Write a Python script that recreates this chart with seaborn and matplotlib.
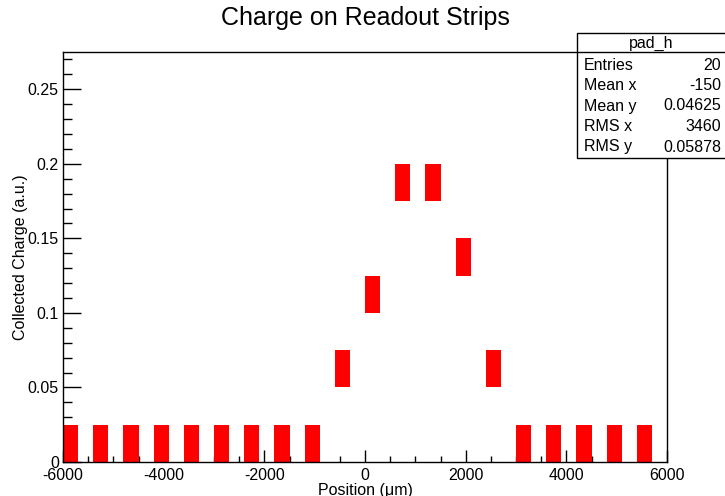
import numpy as np
import pandas as pd
import matplotlib
matplotlib.use("Agg")
import matplotlib.pyplot as plt
from matplotlib.colors import ListedColormap
from matplotlib.patches import Rectangle
from matplotlib.ticker import MultipleLocator
import seaborn as sns

# Strip positions (um) and collected charge (a.u., bin centres)
positions = [-5850, -5250, -4650, -4050, -3450, -2850, -2250, -1650, -1050, -450,
             150, 750, 1350, 1950, 2550, 3150, 3750, 4350, 4950, 5550]
charges = [0.0125, 0.0125, 0.0125, 0.0125, 0.0125, 0.0125, 0.0125, 0.0125, 0.0125, 0.0625,
           0.1125, 0.1875, 0.1875, 0.1375, 0.0625, 0.0125, 0.0125, 0.0125, 0.0125, 0.0125]
x_edges = np.linspace(-6000, 6000, 41)
y_edges = np.linspace(0, 0.275, 12)

stats_labels = ["Entries", "Mean x", "Mean y", "RMS x", "RMS y"]
stats_values = ["20", "-150", "0.04625", "3460", "0.05878"]

sns.set_style("ticks")
plt.rcParams['font.family'] = ['Liberation Sans', 'DejaVu Sans']
plt.rcParams['text.color'] = 'black'
plt.rcParams['axes.labelcolor'] = 'black'
plt.rcParams['xtick.color'] = 'black'
plt.rcParams['ytick.color'] = 'black'

df = pd.DataFrame({"Position": positions, "Charge": charges})

fig = plt.figure(figsize=(7.25, 4.96), dpi=100)
ax = fig.add_axes([63/725, 34/496, 604/725, 410/496])

sns.histplot(data=df, x="Position", y="Charge", bins=[x_edges, y_edges],
             cmap=ListedColormap(["#ff0000"]), vmin=0, vmax=1, cbar=False, ax=ax)

ax.set_xlim(-6000, 6000)
ax.set_ylim(0, 0.275)
ax.xaxis.set_minor_locator(MultipleLocator(500))
ax.yaxis.set_minor_locator(MultipleLocator(0.01))
ax.set_xticks([-6000, -4000, -2000, 0, 2000, 4000, 6000])
ax.set_xticklabels(["-6000", "-4000", "-2000", "0", "2000", "4000", "6000"])
ax.set_yticks([0, 0.05, 0.1, 0.15, 0.2, 0.25])
ax.set_yticklabels(["0", "0.05", "0.1", "0.15", "0.2", "0.25"])
ax.tick_params(axis='x', which='both', bottom=True, top=False, direction='in', colors='black')
ax.tick_params(axis='y', which='both', left=True, right=False, direction='in', colors='black')
ax.tick_params(axis='x', which='major', length=8.6, width=1, labelsize=11.5, pad=4.5)
ax.tick_params(axis='x', which='minor', length=4.3, width=1)
ax.tick_params(axis='y', which='major', length=13, width=1, labelsize=11.5, pad=3)
ax.tick_params(axis='y', which='minor', length=6.5, width=1)
for s in ax.spines.values():
    s.set_visible(True)
    s.set_color('black')
    s.set_linewidth(1)

ax.set_xlabel("Position (\u03bcm)", fontsize=11.5, labelpad=0, color='black')
ax.set_ylabel("Collected Charge (a.u.)", fontsize=11.5, color='black')
ax.xaxis.set_label_coords(0.5, -0.052)
ax.yaxis.set_label_coords(-0.058, 0.5)

fig.text(365/725, 1 - 18/496, "Charge on Readout Strips", ha='center', va='center',
         fontsize=18, color='black')

# Stats box
bx0, by0, bx1, by1 = 577, 33, 726, 158
fig.patches.append(Rectangle((bx0/725, 1 - by1/496), (bx1 - bx0)/725, (by1 - by0)/496,
                             transform=fig.transFigure, facecolor='white', edgecolor='black',
                             linewidth=1, zorder=10))
fig.lines.append(plt.Line2D([bx0/725, bx1/725], [1 - 52/496, 1 - 52/496],
                            transform=fig.transFigure, color='black', linewidth=1, zorder=11))
fig.text((bx0 + bx1)/2/725, 1 - 43/496, "pad_h", ha='center', va='center', fontsize=11.5,
         zorder=12, color='black')
for i, (lab, val) in enumerate(zip(stats_labels, stats_values)):
    yy = 1 - (65 + i*20.5)/496
    fig.text(584/725, yy, lab, ha='left', va='center', fontsize=11.5, zorder=12, color='black')
    fig.text(721/725, yy, val, ha='right', va='center', fontsize=11.5, zorder=12, color='black')

fig.savefig("out.png", dpi=100)
